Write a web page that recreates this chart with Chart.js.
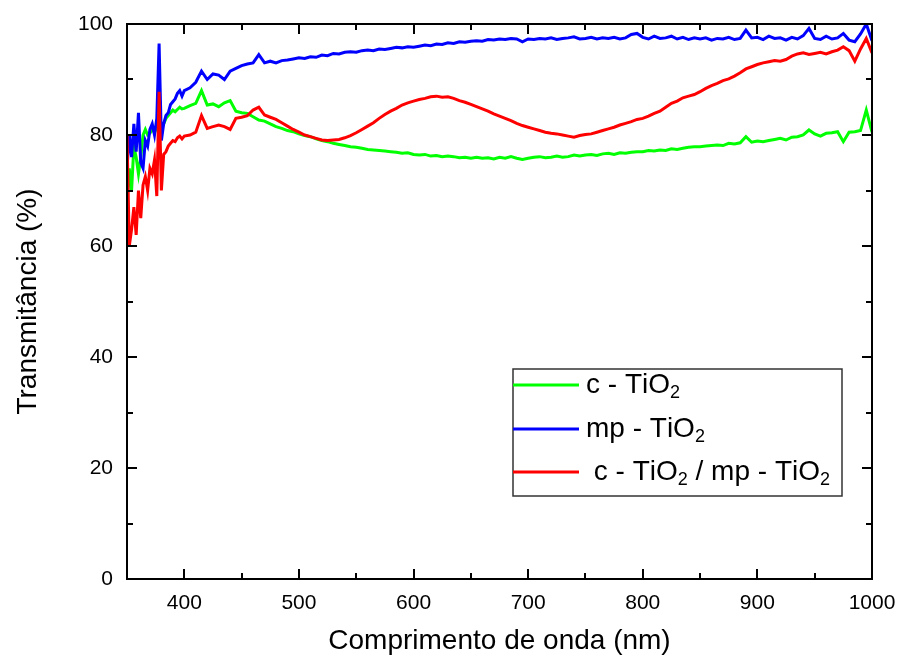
<!DOCTYPE html>
<html>
<head>
<meta charset="utf-8">
<script src="https://cdn.jsdelivr.net/npm/chart.js@4.4.1/dist/chart.umd.min.js"></script>
<style>
  html, body { margin: 0; padding: 0; background: #ffffff; }
  #wrap { width: 897px; height: 659px; }
</style>
</head>
<body>
<div id="wrap"><canvas id="c" width="897" height="659"></canvas></div>
<script>
// ---------------- data ----------------
const wavelength = [
  350,352,354,356,358,360,362,364,366,368,370,372,374,376,378,380,382,384,386,388,390,392,394,396,398,400,
  405,410,415,420,425,430,435,440,445,450,455,460,465,470,475,480,485,490,495,500,
  505,510,515,520,525,530,535,540,545,550,555,560,565,570,575,580,585,590,595,600,
  605,610,615,620,625,630,635,640,645,650,655,660,665,670,675,680,685,690,695,700,
  705,710,715,720,725,730,735,740,745,750,755,760,765,770,775,780,785,790,795,800,
  805,810,815,820,825,830,835,840,845,850,855,860,865,870,875,880,885,890,895,900,
  905,910,915,920,925,930,935,940,945,950,955,960,965,970,975,980,985,990,995,1000
];

const cTiO2 = [
  68,74,70,78,76,73,76,80,81,80,80.3,81,80.5,81.2,82,81.5,82,83,83.5,84,84.5,84.2,84.6,85,84.7,84.8,
  85.3,85.7,88,85.4,85.6,85.1,85.8,86.2,84.3,84,83.9,83.3,82.7,82.5,82,81.5,81.2,80.8,80.6,80.2,
  79.9,79.7,79.3,79,78.8,78.5,78.3,78.1,77.9,77.8,77.6,77.4,77.3,77.2,77.1,77,76.9,76.7,76.8,76.5,
  76.4,76.5,76.2,76.3,76.1,76.2,76.1,75.9,76,75.8,76,75.8,75.9,75.7,76,75.8,76.1,75.8,75.6,75.8,
  76,76.1,75.9,76,76.2,76,76.1,76.4,76.2,76.4,76.5,76.3,76.6,76.7,76.5,76.8,76.7,76.9,77,77,
  77.2,77.1,77.3,77.2,77.5,77.4,77.6,77.8,77.9,77.9,78,78.1,78.2,78.1,78.5,78.4,78.6,79.7,78.7,78.9,
  78.8,79,79.2,79.4,79.1,79.6,79.7,80,80.9,80.2,79.8,80.3,80.4,80.6,78.8,80.5,80.6,80.8,84.5,80.5
];

const mpTiO2 = [
  74,80,76,82,77,84,75,74,79,78,81,82,80,83,96.5,79,82,83.5,84,85.5,86,86.5,87.5,88,87,88,
  88.5,89.5,91.5,90,91,90.8,90,91.5,92,92.5,92.8,93,94.5,93,93.3,93,93.4,93.5,93.7,93.9,
  93.8,94.1,94,94.4,94.3,94.7,94.6,94.9,95,94.9,95.2,95.3,95.2,95.5,95.4,95.6,95.8,95.7,95.9,95.8,
  96,96.2,96.1,96.4,96.3,96.6,96.5,96.8,96.7,96.9,97,96.9,97.2,97.1,97.3,97.2,97.4,97.3,96.8,97.3,
  97.2,97.4,97.3,97.5,97.2,97.4,97.5,97.7,97.3,97.4,97.6,97.3,97.5,97.4,97.6,97.3,97.5,98.1,98.3,97.6,
  97.3,97.8,97.4,97.5,97.8,97.3,97.6,97.2,97.5,97.3,97.5,97.1,97.4,97.3,97.6,97.2,97.4,98.9,97.5,97.6,
  97.2,97.8,97.4,97.5,97.1,97.6,97.3,97.9,99.2,97.4,97.2,97.8,97.3,97.5,98.3,97.1,96.8,98.2,100,97
];

const cmpTiO2 = [
  80,60,63,67,62,70,65,71,72.5,70,74,73,75.5,69,87.8,70,76.5,77,78,78.5,79,78.8,79.5,79.8,79.3,79.8,
  80,80.5,83.5,81.2,81.5,81.8,81.5,81,83,83.2,83.5,84.5,85,83.6,83.2,82.8,82.2,81.6,81,80.5,
  80,79.7,79.4,79.1,79,79.1,79.2,79.5,79.9,80.4,81,81.6,82.2,83,83.7,84.3,84.8,85.4,85.8,86.1,
  86.4,86.6,86.9,87,86.8,86.9,86.6,86.2,85.9,85.5,85.1,84.7,84.3,83.8,83.4,83,82.6,82.1,81.7,81.4,
  81.1,80.8,80.5,80.3,80.2,80,79.8,79.6,79.9,80.1,80.2,80.5,80.8,81.1,81.4,81.8,82.1,82.4,82.8,83,
  83.4,83.9,84.3,85,85.7,86.1,86.7,87,87.3,87.8,88.4,88.9,89.3,89.8,90.1,90.6,91.2,91.9,92.3,92.7,
  93,93.2,93.4,93.3,93.6,94.2,94.6,94.8,94.5,94.7,94.9,94.6,95,95.3,95.9,95.2,93.3,95.5,97.4,94.8
];

const seriesNames = ['c - TiO2', 'mp - TiO2', ' c - TiO2 / mp - TiO2'];
const xTickValues = [400, 500, 600, 700, 800, 900, 1000];
const yTickValues = [0, 20, 40, 60, 80, 100];
const xTitle = 'Comprimento de onda (nm)';
const yTitle = 'Transmitância (%)';

// ---------------- helpers ----------------
const toPoints = vals => wavelength.map((w, i) => ({ x: w, y: vals[i] }));
const FONT = '"Liberation Sans", Arial, sans-serif';

function drawRich(ctx, text, x, y, size) {
  let cx = x;
  for (let i = 0; i < text.length; i++) {
    const ch = text[i];
    if (ch === '2' && i > 0 && text[i - 1] === 'O') {
      const s = Math.round(size * 0.66);
      ctx.font = s + 'px ' + FONT;
      ctx.fillText(ch, cx, y + size * 0.3);
      cx += ctx.measureText(ch).width;
    } else {
      ctx.font = size + 'px ' + FONT;
      ctx.fillText(ch, cx, y);
      cx += ctx.measureText(ch).width;
    }
  }
}

const framePlugin = {
  id: 'frameTicks',
  afterDraw(chart) {
    const { ctx, chartArea: a, scales: { x, y } } = chart;
    ctx.save();
    ctx.strokeStyle = '#000';
    ctx.lineWidth = 2;
    ctx.beginPath();
    ctx.rect(a.left, a.top, a.right - a.left, a.bottom - a.top);
    ctx.stroke();
    const major = 10, minor = 6;
    ctx.beginPath();
    const xs = [];
    xTickValues.forEach((v, i) => {
      xs.push([v, major]);
      const prev = i === 0 ? v - 100 : xTickValues[i - 1];
      xs.push([(v + prev) / 2, minor]);
    });
    xs.forEach(([v, len]) => {
      const px = Math.round(x.getPixelForValue(v));
      if (px < a.left + 1 || px > a.right - 1) return;
      ctx.moveTo(px, a.bottom); ctx.lineTo(px, a.bottom - len);
      ctx.moveTo(px, a.top); ctx.lineTo(px, a.top + len);
    });
    const ys = [];
    yTickValues.forEach((v, i) => {
      ys.push([v, major]);
      if (i > 0) ys.push([(v + yTickValues[i - 1]) / 2, minor]);
    });
    ys.forEach(([v, len]) => {
      const py = Math.round(y.getPixelForValue(v));
      if (py < a.top + 1 || py > a.bottom - 1) return;
      ctx.moveTo(a.left, py); ctx.lineTo(a.left + len, py);
      ctx.moveTo(a.right, py); ctx.lineTo(a.right - len, py);
    });
    ctx.stroke();

    // legend
    const bx = a.left + 386, by = a.top + 345, bw = 329, bh = 127;
    ctx.fillStyle = '#fff';
    ctx.fillRect(bx, by, bw, bh);
    ctx.strokeStyle = '#333';
    ctx.lineWidth = 1.5;
    ctx.strokeRect(bx, by, bw, bh);
    const rows = [16, 60, 103];
    chart.data.datasets.forEach((ds, i) => {
      const ry = by + rows[i];
      ctx.strokeStyle = ds.borderColor;
      ctx.lineWidth = 3;
      ctx.beginPath();
      ctx.moveTo(bx, ry); ctx.lineTo(bx + 66, ry);
      ctx.stroke();
      ctx.fillStyle = '#000';
      ctx.textBaseline = 'middle';
      ctx.textAlign = 'left';
      drawRich(ctx, ds.label, bx + 73, ry, 28);
    });
    ctx.restore();
  }
};

const ds = (label, vals, color, order) => ({
  label, data: toPoints(vals), borderColor: color, backgroundColor: color,
  borderWidth: 3, pointRadius: 0, showLine: true, fill: false, tension: 0, order
});

new Chart(document.getElementById('c'), {
  type: 'scatter',
  data: {
    datasets: [
      ds(seriesNames[0], cTiO2, '#00ff00', 3),
      ds(seriesNames[1], mpTiO2, '#0000ff', 2),
      ds(seriesNames[2], cmpTiO2, '#ff0000', 1)
    ]
  },
  options: {
    responsive: false,
    animation: false,
    layout: { padding: { left: 0, top: 24, right: 25, bottom: 0 } },
    plugins: { legend: { display: false }, tooltip: { enabled: false } },
    scales: {
      x: {
        type: 'linear', min: 350, max: 1000,
        afterBuildTicks: s => { s.ticks = xTickValues.map(v => ({ value: v })); },
        afterFit: s => { s.height = 80; s.paddingLeft = 0; s.paddingRight = 0; },
        grid: { display: false, drawTicks: false },
        border: { display: false },
        ticks: { font: { family: FONT, size: 21 }, color: '#000', padding: 12, maxRotation: 0,
                 callback: v => String(v) },
        title: { display: true, text: xTitle, color: '#000', font: { family: FONT, size: 28 }, padding: { top: 0, bottom: 1 } }
      },
      y: {
        type: 'linear', min: 0, max: 100,
        afterBuildTicks: s => { s.ticks = yTickValues.map(v => ({ value: v })); },
        afterFit: s => { s.width = 127; s.paddingTop = 0; s.paddingBottom = 0; },
        grid: { display: false, drawTicks: false },
        border: { display: false },
        ticks: { font: { family: FONT, size: 21 }, color: '#000', padding: 14, callback: v => String(v) },
        title: { display: true, text: yTitle, color: '#000', font: { family: FONT, size: 28 }, padding: { top: 11, bottom: 0 } }
      }
    }
  },
  plugins: [framePlugin]
});
</script>
</body>
</html>
